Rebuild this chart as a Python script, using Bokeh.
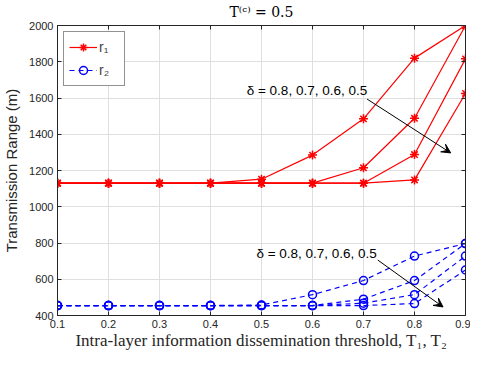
from bokeh.plotting import figure
from bokeh.models import FixedTicker, Arrow, VeeHead, Label, Range1d, LinearAxis, CustomLabelingPolicy
from bokeh.embed import file_html
from bokeh.resources import INLINE

# ---- data ----
thresholds = [0.1, 0.2, 0.3, 0.4, 0.5, 0.6, 0.7, 0.8, 0.9]
deltas = [0.8, 0.7, 0.6, 0.5]

r1_d08 = [1130, 1130, 1130, 1130, 1152, 1285, 1485, 1820, 2000]
r1_d07 = [1130, 1130, 1130, 1130, 1130, 1130, 1215, 1488, 2000]
r1_d06 = [1130, 1130, 1130, 1130, 1130, 1130, 1130, 1288, 1816]
r1_d05 = [1130, 1130, 1130, 1130, 1130, 1130, 1130, 1148, 1625]

r2_d08 = [455, 455, 455, 455, 458, 515, 593, 728, 797]
r2_d07 = [455, 455, 455, 455, 455, 455, 490, 593, 797]
r2_d06 = [455, 455, 455, 455, 455, 455, 468, 515, 728]
r2_d05 = [455, 455, 455, 455, 455, 455, 455, 466, 651]

x_ticks = [0.1, 0.2, 0.3, 0.4, 0.5, 0.6, 0.7, 0.8, 0.9]
y_ticks = [400, 600, 800, 1000, 1200, 1400, 1600, 1800, 2000]

title_text = "T\u207d\u1d9c\u207e = 0.5"
x_label = "Intra-layer information dissemination threshold, T\u2081, T\u2082"
y_label = "Transmission Range (m)"
delta_text = "\u03b4 = 0.8, 0.7, 0.6, 0.5"

AX = "#262626"

p = figure(width=470, height=352, output_backend="svg", toolbar_location=None,
           x_range=Range1d(0.1, 0.9), y_range=Range1d(400, 2000),
           min_border_left=52, min_border_right=3, min_border_top=10, min_border_bottom=10)

p.title.text = title_text
p.title.align = "center"
p.title.text_font = "DejaVu Serif"
p.title.text_font_style = "normal"
p.title.text_font_size = "14px"
p.title.text_color = "#000000"
p.title.standoff = 3

p.outline_line_color = AX
p.outline_line_width = 1

for ax, ticks in ((p.xaxis[0], x_ticks), (p.yaxis[0], y_ticks)):
    ax.ticker = FixedTicker(ticks=ticks)
    ax.major_tick_in = 4
    ax.major_tick_out = 0
    ax.minor_tick_line_color = None
    ax.axis_line_color = AX
    ax.major_tick_line_color = AX
    ax.major_label_text_font = "Liberation Sans"
    ax.major_label_text_font_size = "11px"
    ax.major_label_text_color = AX
    ax.axis_label_text_color = AX
    ax.axis_label_text_font_style = "normal"

p.xaxis[0].axis_label = x_label
p.xaxis[0].axis_label_text_font = "Liberation Serif"
p.xaxis[0].axis_label_text_font_size = "17px"
p.xaxis[0].major_label_standoff = 4
p.xaxis[0].axis_label_standoff = 0
p.yaxis[0].axis_label = y_label
p.yaxis[0].axis_label_text_font = "Liberation Sans"
p.yaxis[0].axis_label_text_font_size = "15px"
p.yaxis[0].major_label_standoff = 4
p.yaxis[0].axis_label_standoff = 6

# box axes on top and right: inward ticks only, no labels
hide_all = CustomLabelingPolicy(code="""
    for (const i of indices)
        indices.unset(i)
    return indices
""")
for loc, ticks in (("above", x_ticks), ("right", y_ticks)):
    a = LinearAxis(ticker=FixedTicker(ticks=ticks), major_tick_in=4, major_tick_out=0,
                   minor_tick_line_color=None, axis_line_color=AX, major_tick_line_color=AX,
                   major_label_standoff=0, major_label_text_font_size="1px",
                   major_label_policy=hide_all)
    p.add_layout(a, loc)

for g in (p.xgrid[0], p.ygrid[0]):
    g.grid_line_color = "#dfdfdf"
    g.grid_line_width = 1
p.xgrid[0].ticker = FixedTicker(ticks=x_ticks)
p.ygrid[0].ticker = FixedTicker(ticks=y_ticks)

red_series = [r1_d08, r1_d07, r1_d06, r1_d05]
blue_series = [r2_d08, r2_d07, r2_d06, r2_d05]

for i, ys in enumerate(red_series):
    kw = dict(legend_label="r\u2081") if i == 0 else {}
    p.line(thresholds, ys, line_color="#ff0000", line_width=1.2, **kw)
    p.scatter(thresholds, ys, marker="asterisk", size=9, line_color="#ff0000", line_width=1.5, **kw)

for i, ys in enumerate(blue_series):
    kw = dict(legend_label="r\u2082") if i == 0 else {}
    p.line(thresholds, ys, line_color="#0000ff", line_width=1.2, line_dash="5 4", **kw)
    p.scatter(thresholds, ys, marker="circle", size=8, line_color="#0000ff", fill_color=None, line_width=1.5, **kw)

# annotations
p.add_layout(Label(x=0.471, y=1640, text=delta_text, text_font="Liberation Sans", text_font_size="13.5px",
                   text_baseline="middle", text_color="#000000"))
p.add_layout(Arrow(x_start=0.707, y_start=1594, x_end=0.871, y_end=1297, line_color="black", line_width=1,
                   end=VeeHead(size=9, fill_color="black", line_color="black")))
p.add_layout(Label(x=0.49, y=742, text=delta_text, text_font="Liberation Sans", text_font_size="13.5px",
                   text_baseline="middle", text_color="#000000"))
p.add_layout(Arrow(x_start=0.728, y_start=706, x_end=0.856, y_end=447, line_color="black", line_width=1,
                   end=VeeHead(size=9, fill_color="black", line_color="black")))

lg = p.legend[0]
lg.location = "top_left"
lg.margin = 6
lg.padding = 5
lg.spacing = 3
lg.glyph_width = 28
lg.glyph_height = 20
lg.label_standoff = 2
lg.label_text_font = "Liberation Sans"
lg.label_text_font_size = "14px"
lg.border_line_color = AX
lg.border_line_width = 1
lg.background_fill_color = "white"
lg.background_fill_alpha = 1

open("out.html", "w").write(file_html(p, INLINE))
